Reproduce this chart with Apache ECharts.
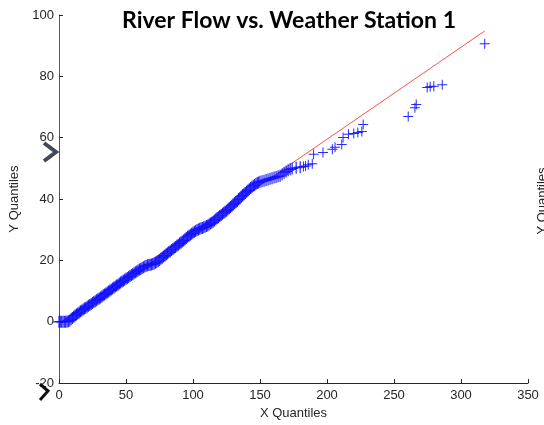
<!DOCTYPE html>
<html>
<head>
<meta charset="utf-8">
<script src="https://cdn.jsdelivr.net/npm/echarts@6/dist/echarts.min.js"></script>
<style>html,body{margin:0;padding:0;background:#fff}#c{width:544px;height:425px}</style>
</head>
<body>
<div id="c"></div>
<script>
// Quantile pairs
var qx = [0,1,2,3,4,5,6,7,8,9,10,11,12,13,14,15,16,17,18,19,20,21,22,23,24,25,26,27,28,29,30,31,32,33,34,35,36,37,38,39,40,41,42,43,44,45,46,47,48,49,50,51,52,53,54,55,56,57,58,59,60,61,62,63,64,65,66,67,68,69,70,71,72,73,74,75,76,77,78,79,80,81,82,83,84,85,86,87,88,89,90,91,92,93,94,95,96,97,98,99,100,101,102,103,104,105,106,107,108,109,110,111,112,113,114,115,116,117,118,119,120,121,122,123,124,125,126,127,128,129,130,131,132,133,134,135,136,137,138,139,140,141,142,143,144,145,146,147,148,149,150,151.5,153,154.5,156,157.5,159,160.5,162,163.5,165,166.5,168,169.5,171,172.5,174,177,180,182.4,184,186,189,190,197,204,206,211,212,216,220,223,226,227,260.6,265.6,266.6,274.8,277,279.7,286,317.7];
var qy = [0,0,0,0,0,0,0.1,0.2,0.4,0.8,1.2,1.6,2.0,2.4,2.7,3.0,3.4,3.7,4.0,4.3,4.6,4.9,5.2,5.5,5.8,6.1,6.4,6.7,7.0,7.3,7.6,7.9,8.2,8.6,8.9,9.2,9.5,9.9,10.2,10.5,10.8,11.2,11.5,11.8,12.1,12.5,12.8,13.1,13.4,13.7,14.0,14.3,14.6,14.9,15.2,15.5,15.8,16.1,16.4,16.7,17.0,17.2,17.5,17.8,18.0,18.2,18.4,18.5,18.6,18.7,18.8,19.0,19.2,19.5,19.8,20.1,20.5,20.9,21.3,21.6,22.0,22.3,22.7,23.0,23.4,23.7,24.1,24.4,24.8,25.1,25.5,25.8,26.2,26.5,26.9,27.3,27.7,28.0,28.4,28.7,29.0,29.3,29.6,29.9,30.1,30.3,30.5,30.6,30.8,31.0,31.2,31.4,31.7,32.0,32.3,32.6,33.0,33.4,33.8,34.1,34.5,34.8,35.2,35.5,35.9,36.2,36.6,37.0,37.4,37.8,38.2,38.6,39.0,39.4,39.9,40.3,40.8,41.2,41.6,42.0,42.4,42.8,43.2,43.6,44.0,44.3,44.6,44.9,45.2,45.4,45.6,45.8,46.0,46.2,46.4,46.6,46.8,47.0,47.2,47.4,47.6,48.1,48.6,49.0,49.4,49.7,50.0,50.2,50.4,50.6,50.8,51.2,51.5,54.6,55.2,56.2,56.9,57.8,60.1,61.1,61.4,61.7,62.0,64.3,66.9,69.8,70.8,76.4,76.6,76.8,77.3,90.6];
// Reference line (through quartiles, extrapolated)
var lineX = [0, 317.7];
var lineY = [-0.5, 94.8];
var xTicks = [0, 50, 100, 150, 200, 250, 300, 350];
var yTicks = [-20, 0, 20, 40, 60, 80, 100];
var titleText = 'River Flow vs. Weather Station 1';
var xName = 'X Quantiles';
var yName = 'Y Quantiles';

var pts = qx.map(function(v, i){ return [v, qy[i]]; });
var lpts = lineX.map(function(v, i){ return [v, lineY[i]]; });

var chart = echarts.init(document.getElementById('c'), null, {renderer:'canvas'});
var plus = 'path://M0,4.5H10V5.5H0Z M4.5,0H5.5V10H4.5Z';
chart.setOption({
  animation: false,
  backgroundColor: '#fff',
  grid: {left: 58, right: 16, top: 15, bottom: 40, containLabel: false},
  title: {
    text: titleText, left: 117, top: 4,
    textStyle: {fontFamily: 'Lato', fontSize: 23, fontWeight: 'bold', color: '#000'}
  },
  xAxis: {
    type: 'value', min: xTicks[0], max: xTicks[xTicks.length-1], interval: 50,
    name: xName, nameLocation: 'middle', nameGap: 22,
    nameTextStyle: {fontFamily: 'Liberation Sans', fontSize: 13, color: '#262626'},
    axisLine: {onZero: false, lineStyle: {color: '#262626', width: 1}},
    axisTick: {inside: true, length: 4, lineStyle: {color: '#262626'}},
    axisLabel: {fontFamily: 'Liberation Sans', fontSize: 13, color: '#262626', margin: 6},
    splitLine: {show: false}
  },
  yAxis: {
    type: 'value', min: yTicks[0], max: yTicks[yTicks.length-1], interval: 20,
    name: yName, nameLocation: 'middle', nameGap: 38,
    nameTextStyle: {fontFamily: 'Liberation Sans', fontSize: 13, color: '#262626'},
    axisLine: {show: true, onZero: false, lineStyle: {color: '#555', width: 1}},
    axisTick: {show: true, inside: true, length: 4, lineStyle: {color: '#262626'}},
    axisLabel: {fontFamily: 'Liberation Sans', fontSize: 13, color: '#262626', margin: 5},
    splitLine: {show: false}
  },
  series: [
    {type: 'line', data: lpts, symbol: 'none', z: 1,
     lineStyle: {color: '#ff5050', width: 1}},
    {type: 'scatter', data: pts, symbol: plus, z: 2,
     symbolSize: function(v){ return v[0] <= 180 ? 12 : 10; },
     itemStyle: {color: '#1010ff', opacity: 0.9}}
  ],
  graphic: [
    {type: 'polyline', z: 100, shape: {points: [[44,143],[56,152],[44,161]]},
     style: {stroke: '#3f4c58', lineWidth: 4, fill: null}},
    {type: 'polyline', z: 100, shape: {points: [[40,384],[48,391],[40,400]]},
     style: {stroke: '#111', lineWidth: 3, fill: null}},
    {type: 'text', z: 100, x: 536, y: 201, rotation: Math.PI/2,
     style: {text: yName, font: '13px "Liberation Sans"', fill: '#262626', textAlign: 'center', textVerticalAlign: 'top'}}
  ]
});
</script>
</body>
</html>
